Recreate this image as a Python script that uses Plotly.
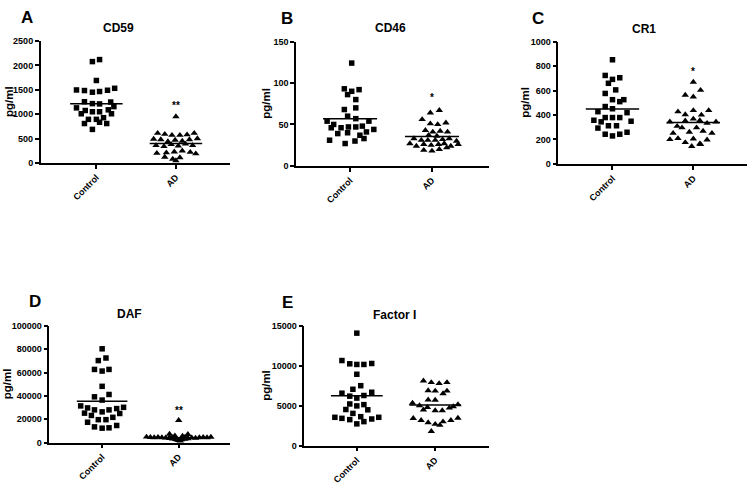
import plotly.graph_objects as go

categories = ["Control", "AD"]

# ---- Panel A: CD59 ----
cd59_control = [2077, 2118, 1690, 1496, 1484, 1450, 1464, 1490, 1530, 1255, 1216, 1210, 1249, 1155,
                1129, 1008, 1075, 1049, 1049, 1089, 1008, 894, 808, 894, 835, 928, 808, 688]
cd59_control_jitter = [-0.05, 0.04, 0.0, -0.25, -0.15, -0.05, 0.04, 0.14, 0.23, -0.15, -0.05, 0.04, 0.18, 0.22,
                       -0.25, -0.19, -0.14, -0.05, 0.04, 0.15, 0.19, -0.1, -0.15, 0.0, 0.04, 0.09, 0.13, -0.05]
cd59_ad = [950, 610, 590, 570, 570, 580, 610, 490, 480, 440, 470, 450, 480, 500,
           360, 340, 380, 350, 390, 360, 200, 210, 230, 250, 220, 190, 120, 80, 110, 50]
cd59_ad_jitter = [0.0, -0.23, -0.14, -0.05, 0.05, 0.14, 0.23, -0.28, -0.19, -0.1, -0.01, 0.08, 0.17, 0.27,
                  -0.25, -0.15, -0.06, 0.03, 0.12, 0.21, -0.24, -0.12, -0.02, 0.08, 0.18, 0.25, -0.14, -0.04, 0.05, 0.0]

# ---- Panel B: CD46 ----
cd46_control = [124, 93, 86, 90, 92, 80, 68, 70, 60, 57, 54, 50, 46, 46, 47, 47, 48, 54, 44,
                39, 40, 37, 41, 31, 33, 30, 27]
cd46_control_jitter = [0.02, -0.07, -0.03, 0.02, 0.11, 0.07, -0.07, 0.07, -0.03, 0.07, -0.28, -0.2, -0.23,
                       -0.11, -0.02, 0.07, 0.15, 0.23, 0.29, -0.15, -0.03, 0.12, 0.2, -0.25, 0.17, 0.06, -0.06]
cd46_ad = [67, 64, 56, 51, 50, 52, 43, 41, 42, 41, 37, 36, 33, 31, 31, 31, 32, 33, 30,
           27, 24, 26, 25, 26, 27, 24, 26, 19, 18, 20, 22]
cd46_ad_jitter = [0.09, -0.02, -0.12, -0.02, 0.07, 0.17, -0.08, 0.01, 0.1, 0.19, -0.04, 0.06, -0.22, -0.13,
                  -0.05, 0.04, 0.13, 0.21, 0.3, -0.27, -0.19, -0.1, -0.01, 0.08, 0.15, 0.23, 0.32,
                  -0.1, 0.0, 0.09, 0.18]

# ---- Panel C: CR1 ----
cr1_control = [851, 723, 691, 704, 659, 605, 576, 525, 509, 525, 469, 451, 427, 357, 344, 379, 379, 379,
               419, 349, 293, 312, 312, 259, 243, 229, 243]
cr1_control_jitter = [0.0, -0.09, 0.0, 0.09, -0.05, 0.04, -0.09, 0.0, 0.09, 0.14, -0.09, 0.0, -0.18, -0.23,
                      -0.14, -0.09, 0.0, 0.09, 0.18, 0.23, -0.18, -0.05, 0.05, 0.18, -0.09, 0.0, 0.09]
cr1_ad = [669, 603, 563, 549, 427, 403, 437, 400, 437, 344, 309, 352, 368, 355, 333, 344,
          251, 296, 261, 296, 269, 251, 208, 200, 176, 205, 165, 197, 144, 160]
cr1_ad_jitter = [0.0, 0.09, -0.1, 0.0, -0.19, -0.1, 0.0, 0.1, 0.19, -0.29, -0.2, -0.1, 0.0, 0.08, 0.17, 0.28,
                 -0.25, -0.14, -0.05, 0.04, 0.12, 0.23, -0.19, -0.29, -0.1, 0.0, 0.08, 0.17, -0.02, 0.09]

# ---- Panel D: DAF ----
daf_control = [80400, 70300, 72500, 62700, 61300, 62700, 48200, 39200, 41200, 36400, 31400, 29700, 28000,
               26300, 28000, 29100, 30200, 25200, 23200, 24900, 19600, 19600, 21600, 17400, 13400, 12300,
               12600, 14600]
daf_control_jitter = [0.0, -0.05, 0.05, -0.1, 0.0, 0.09, 0.0, -0.1, 0.09, 0.0, -0.28, -0.19, -0.1, 0.0,
                      0.09, 0.19, 0.28, -0.23, -0.14, 0.23, -0.05, 0.05, 0.14, -0.19, -0.1, 0.0, 0.09, 0.19]
daf_ad = [19000, 7200, 7000, 5800, 5500, 4800, 4500, 4300, 4600, 4200, 4000, 4400, 3900, 4100, 3800,
          4300, 4500, 4200, 4700, 4400, 4600, 3600, 3200, 2800, 2300, 1800, 1500, 2500, 3000, 3400]
daf_ad_jitter = [0.0, -0.12, 0.12, -0.05, 0.05, -0.42, -0.37, -0.32, -0.27, -0.22, -0.17, -0.12, 0.12, 0.17,
                 0.22, 0.27, 0.32, 0.37, 0.42, -0.08, 0.08, -0.12, -0.08, -0.04, -0.02, 0.0, 0.02, 0.04,
                 0.08, 0.12]

# ---- Panel E: Factor I ----
fi_control = [14100, 10670, 10260, 10180, 10180, 10300, 8950, 7520, 7070, 6580, 6210, 6290, 6700, 5970,
              5230, 4990, 5150, 4540, 4050, 4500, 3560, 3430, 3270, 3640, 3350, 3560, 2740, 3020]
fi_control_jitter = [0.0, -0.19, -0.09, 0.0, 0.09, 0.19, 0.0, 0.05, -0.05, -0.19, -0.09, 0.09, 0.19, 0.0,
                     -0.09, 0.0, 0.09, -0.14, -0.05, 0.14, -0.28, -0.19, -0.09, 0.05, 0.19, 0.28, 0.0, 0.09]
fi_ad = [8130, 7930, 7810, 7930, 6910, 6870, 6540, 6870, 5760, 5720, 5350, 5030, 4820, 4410, 4410, 4740,
         4900, 5150, 4500, 3430, 3190, 2900, 2700, 2570, 3020, 3190, 3470, 1800]
fi_ad_jitter = [-0.15, -0.05, 0.05, 0.15, -0.09, 0.0, 0.1, 0.15, -0.09, 0.0, -0.29, -0.2, -0.1, 0.0, 0.09,
                0.18, 0.23, 0.29, -0.15, -0.28, -0.18, -0.09, 0.0, 0.06, 0.1, 0.2, 0.29, -0.05]

# group central lines
cd59_lines = [1215, 400]
cd46_lines = [57, 35.5]
cr1_lines = [448, 339]
daf_lines = [35300, 4000]
fi_lines = [6250, 5100]

# significance marks
star_text = ["**", "*", "*", "**", ""]
star_values = [1175, 83, 752, 27700, 0]

panel_titles = ["CD59", "CD46", "CR1", "DAF", "Factor I"]
panel_letters = ["A", "B", "C", "D", "E"]
y_ticks = [[0, 500, 1000, 1500, 2000, 2500], [0, 50, 100, 150], [0, 200, 400, 600, 800, 1000],
           [0, 20000, 40000, 60000, 80000, 100000], [0, 5000, 10000, 15000]]

panels = [
    (cd59_control, cd59_control_jitter, cd59_ad, cd59_ad_jitter, cd59_lines),
    (cd46_control, cd46_control_jitter, cd46_ad, cd46_ad_jitter, cd46_lines),
    (cr1_control, cr1_control_jitter, cr1_ad, cr1_ad_jitter, cr1_lines),
    (daf_control, daf_control_jitter, daf_ad, daf_ad_jitter, daf_lines),
    (fi_control, fi_control_jitter, fi_ad, fi_ad_jitter, fi_lines),
]

# layout geometry (pixels in a 750x486 canvas)
W, H = 750, 486
px_domains = [
    ((40.7, 230.0), (36.7, 161.3)),
    ((296.0, 489.3), (37.3, 164.3)),
    ((558.3, 746.7), (37.3, 162.3)),
    ((49.3, 230.0), (327.7, 446.7)),
    ((304.3, 489.3), (327.7, 450.0)),
]
x_ranges = [(-0.70, 1.68), (-0.66, 1.70), (-0.67, 1.66), (-0.69, 1.67), (-0.67, 1.69)]
title_pos = [(118, 23), (390.7, 23), (644, 24), (129, 315), (394, 316.7)]
letter_pos = [(27, 13), (287, 14), (538, 14), (35, 303), (287, 304)]
ylabel_x = [9, 266, 525, 7, 266]

FONT = "Liberation Sans, Arial, sans-serif"
fig = go.Figure()
annotations = []

for i, (ctrl, ctrl_j, ad, ad_j, lines) in enumerate(panels):
    n = "" if i == 0 else str(i + 1)
    xa, ya = "x" + n, "y" + n
    fig.add_trace(go.Scatter(
        x=[0 + j for j in ctrl_j], y=ctrl, mode="markers", xaxis=xa, yaxis=ya,
        marker=dict(symbol="square", size=5.5, color="black"), showlegend=False, cliponaxis=False))
    fig.add_trace(go.Scatter(
        x=[1 + j for j in ad_j], y=ad, mode="markers", xaxis=xa, yaxis=ya,
        marker=dict(symbol="triangle-up", size=6.5, color="black"), showlegend=False, cliponaxis=False))
    for k, v in enumerate(lines):
        fig.add_trace(go.Scatter(
            x=[k - 0.33, k + 0.33], y=[v, v], mode="lines", xaxis=xa, yaxis=ya,
            line=dict(color="black", width=1.5), showlegend=False, hoverinfo="skip"))
    (x0, x1), (y0, y1) = px_domains[i]
    yt = y_ticks[i]
    fig.update_layout(**{
        ("xaxis" + n): dict(
            domain=[x0 / W, x1 / W], range=list(x_ranges[i]), anchor=ya,
            tickvals=[0, 1], ticktext=categories, tickangle=-45,
            showline=True, linecolor="black", linewidth=1.5, ticks="outside", ticklen=4,
            tickwidth=1.5, tickcolor="black", showgrid=False, zeroline=False,
            tickfont=dict(family=FONT, size=9, color="black", weight="bold")),
        ("yaxis" + n): dict(
            domain=[1 - y1 / H, 1 - y0 / H], range=[0, yt[-1]], anchor=xa,
            tickvals=yt, tickformat="d",
            showline=True, linecolor="black", linewidth=1.5, ticks="outside", ticklen=4,
            tickwidth=1.5, tickcolor="black", showgrid=False, zeroline=False,
            tickfont=dict(family=FONT, size=9, color="black", weight="bold")),
    })
    tx, ty = title_pos[i]
    annotations.append(dict(text="<b>%s</b>" % panel_titles[i], x=tx / W, y=1 - ty / H, xref="paper", yref="paper",
                            showarrow=False, font=dict(family=FONT, size=12, color="black"),
                            xanchor="center", yanchor="middle"))
    lx, ly = letter_pos[i]
    annotations.append(dict(text="<b>%s</b>" % panel_letters[i], x=lx / W, y=1 - ly / H, xref="paper", yref="paper",
                            showarrow=False, font=dict(family=FONT, size=17, color="black"),
                            xanchor="center", yanchor="middle"))
    annotations.append(dict(text="<b>pg/ml</b>", x=ylabel_x[i] / W, y=1 - ((y0 + y1) / 2) / H,
                            xref="paper", yref="paper", textangle=-90, showarrow=False,
                            font=dict(family=FONT, size=11.5, color="black"),
                            xanchor="center", yanchor="middle"))
    if star_text[i]:
        annotations.append(dict(text="<b>%s</b>" % star_text[i], x=1, y=star_values[i], xref=xa, yref=ya,
                                showarrow=False, font=dict(family=FONT, size=10, color="black"),
                                xanchor="center", yanchor="middle"))

fig.update_layout(width=W, height=H, margin=dict(l=0, r=0, t=0, b=0),
                  plot_bgcolor="white", paper_bgcolor="white", annotations=annotations,
                  font=dict(family=FONT))
fig.write_html("out.html", config={"displayModeBar": False},
               post_script="document.body.style.margin='0';document.body.style.overflow='hidden';")
